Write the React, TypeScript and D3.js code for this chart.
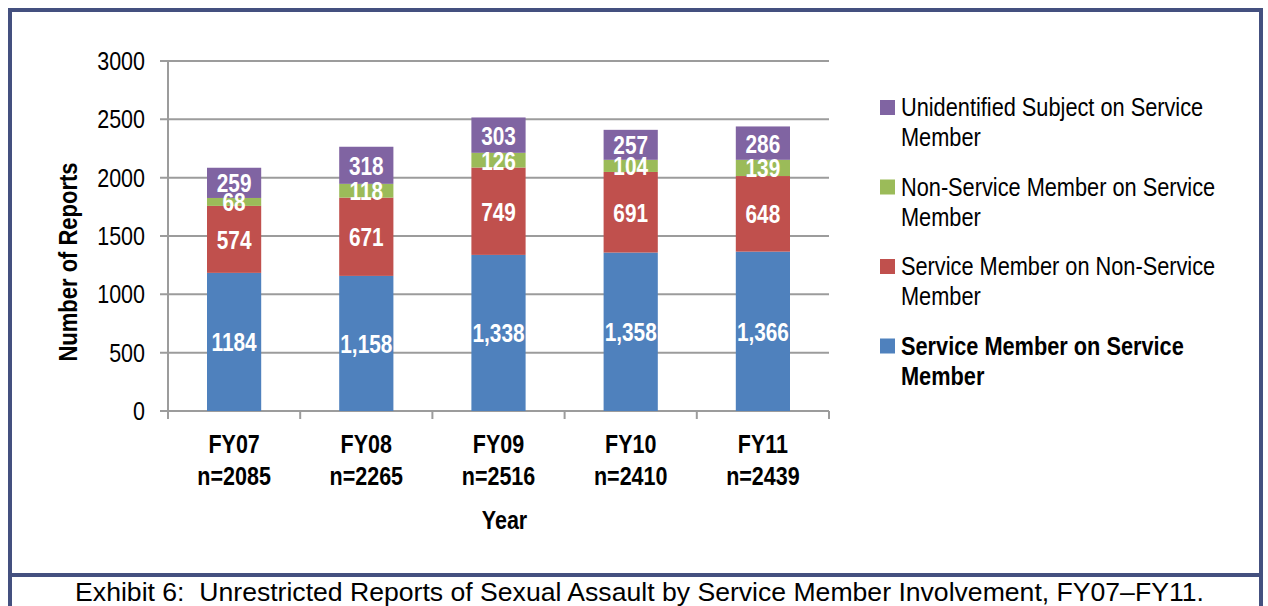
import React, { useRef, useEffect } from 'react';
import * as d3 from 'd3';

const years = ['FY07', 'FY08', 'FY09', 'FY10', 'FY11'];
const totals = ['n=2085', 'n=2265', 'n=2516', 'n=2410', 'n=2439'];
const smOnSm = [1184, 1158, 1338, 1358, 1366];
const smOnNonSm = [574, 671, 749, 691, 648];
const nonSmOnSm = [68, 118, 126, 104, 139];
const unidentified = [259, 318, 303, 257, 286];
// how each value label is printed in the source
const smOnSmLabels = ['1184', '1,158', '1,338', '1,358', '1,366'];
const colors = ['#4F81BD', '#C0504D', '#9BBB59', '#8064A2'];
const yTicks = [0, 500, 1000, 1500, 2000, 2500, 3000];

const FONT = '"Liberation Sans", Arial, sans-serif';

// Arial Narrow is not available, so squeeze Liberation Sans horizontally
function narrowText(
  parent: d3.Selection<any, any, any, any>,
  x: number,
  y: number,
  txt: string,
  opt: { size: number; sx: number; bold?: boolean; anchor?: string; fill?: string; rotate?: number }
) {
  const rot = opt.rotate ? ` rotate(${opt.rotate})` : '';
  return parent
    .append('text')
    .attr('transform', `translate(${x},${y})${rot} scale(${opt.sx},1)`)
    .attr('text-anchor', opt.anchor || 'start')
    .attr('fill', opt.fill || '#000')
    .style('font-family', FONT)
    .style('font-size', `${opt.size}px`)
    .style('font-weight', opt.bold ? 'bold' : 'normal')
    .text(txt);
}

const App = () => {
  const ref = useRef<SVGSVGElement>(null);

  useEffect(() => {
    const svg = d3.select(ref.current);
    svg.selectAll('*').remove();

    const H = 606;
    const margin = { top: 61, left: 168 };
    const width = 661, height = 350;

    // frame
    const frame = svg.append('g').attr('stroke', '#44507F').attr('stroke-width', 4).attr('fill', 'none');
    frame.append('line').attr('x1', 10).attr('x2', 10).attr('y1', 8).attr('y2', H);
    frame.append('line').attr('x1', 1261).attr('x2', 1261).attr('y1', 8).attr('y2', H);
    frame.append('line').attr('x1', 8).attr('x2', 1263).attr('y1', 10).attr('y2', 10);
    frame.append('line').attr('x1', 8).attr('x2', 1263).attr('y1', 575).attr('y2', 575);

    const g = svg.append('g').attr('transform', `translate(${margin.left},${margin.top})`);

    const x = d3.scaleBand().domain(years).range([0, width]).paddingInner(0.59).paddingOuter(0.295);
    const y = d3.scaleLinear().domain([0, 3000]).range([height, 0]);

    // grid + y ticks
    g.selectAll('.grid')
      .data(yTicks)
      .enter()
      .append('line')
      .attr('x1', -8)
      .attr('x2', width)
      .attr('y1', d => y(d))
      .attr('y2', d => y(d))
      .attr('stroke', '#9c9c9c')
      .attr('stroke-width', 2);

    yTicks.forEach(t => {
      narrowText(g, -23, y(t) + 9, String(t), { size: 25, sx: 0.86, anchor: 'end' });
    });

    g.append('line').attr('x1', 0).attr('x2', 0).attr('y1', 0).attr('y2', height)
      .attr('stroke', '#9c9c9c').attr('stroke-width', 2);

    // x ticks between categories
    const step = x.step();
    d3.range(6).forEach(i => {
      g.append('line')
        .attr('x1', i * step).attr('x2', i * step)
        .attr('y1', height).attr('y2', height + 8)
        .attr('stroke', '#9c9c9c').attr('stroke-width', 2);
    });

    const stackData = years.map((yr, i) => ({
      year: yr,
      s0: smOnSm[i],
      s1: smOnNonSm[i],
      s2: nonSmOnSm[i],
      s3: unidentified[i],
    }));
    const stack = d3.stack<any>().keys(['s0', 's1', 's2', 's3'])(stackData);

    stack.forEach((layer, li) => {
      g.selectAll(`.bar${li}`)
        .data(layer)
        .enter()
        .append('rect')
        .attr('x', d => x(d.data.year)!)
        .attr('width', x.bandwidth())
        .attr('y', d => y(d[1]))
        .attr('height', d => y(d[0]) - y(d[1]))
        .attr('fill', colors[li]);
    });

    stack.forEach((layer, li) => {
      layer.forEach((d, i) => {
        const cx = x(d.data.year)! + x.bandwidth() / 2;
        const cy = y((d[0] + d[1]) / 2);
        const label = li === 0 ? smOnSmLabels[i] : String(d[1] - d[0]);
        narrowText(g, cx, cy + 9.5, label, { size: 26, sx: 0.8, bold: true, anchor: 'middle', fill: '#fff' });
      });
    });

    // x labels
    years.forEach((yr, i) => {
      const cx = x(yr)! + x.bandwidth() / 2;
      narrowText(g, cx, 453 - margin.top, yr, { size: 25, sx: 0.86, bold: true, anchor: 'middle' });
      narrowText(g, cx, 485 - margin.top, totals[i], { size: 25, sx: 0.86, bold: true, anchor: 'middle' });
    });

    narrowText(g, width / 2 + 6, 529 - margin.top, 'Year', { size: 25, sx: 0.86, bold: true, anchor: 'middle' });

    narrowText(svg, 77, 262, 'Number of Reports', { size: 25, sx: 0.88, bold: true, anchor: 'middle', rotate: -90 });

    // legend (top-down: purple, green, red, blue)
    const legendRows = [
      { c: colors[3], l1: 'Unidentified Subject on Service', l2: 'Member', bold: false },
      { c: colors[2], l1: 'Non-Service Member on Service', l2: 'Member', bold: false },
      { c: colors[1], l1: 'Service Member on Non-Service', l2: 'Member', bold: false },
      { c: colors[0], l1: 'Service Member on Service', l2: 'Member', bold: true },
    ];
    legendRows.forEach((r, i) => {
      const y0 = 107 + i * 79.5;
      svg.append('rect').attr('x', 880).attr('y', y0 - 7).attr('width', 15).attr('height', 15).attr('fill', r.c);
      narrowText(svg, 901, y0 + 9, r.l1, { size: 25, sx: 0.87, bold: r.bold });
      narrowText(svg, 901, y0 + 39, r.l2, { size: 25, sx: 0.87, bold: r.bold });
    });

    svg.append('text').attr('x', 639.5).attr('y', 601).attr('text-anchor', 'middle')
      .attr('xml:space', 'preserve')
      .style('white-space', 'pre')
      .style('font-family', FONT).style('font-size', '26.6px')
      .text('Exhibit 6:  Unrestricted Reports of Sexual Assault by Service Member Involvement, FY07\u2013FY11.');
  }, []);

  return (
    <svg
      ref={ref}
      width={1268}
      height={606}
      style={{ position: 'absolute', left: 0, top: 0, background: '#fff' }}
    />
  );
};

export default App;
